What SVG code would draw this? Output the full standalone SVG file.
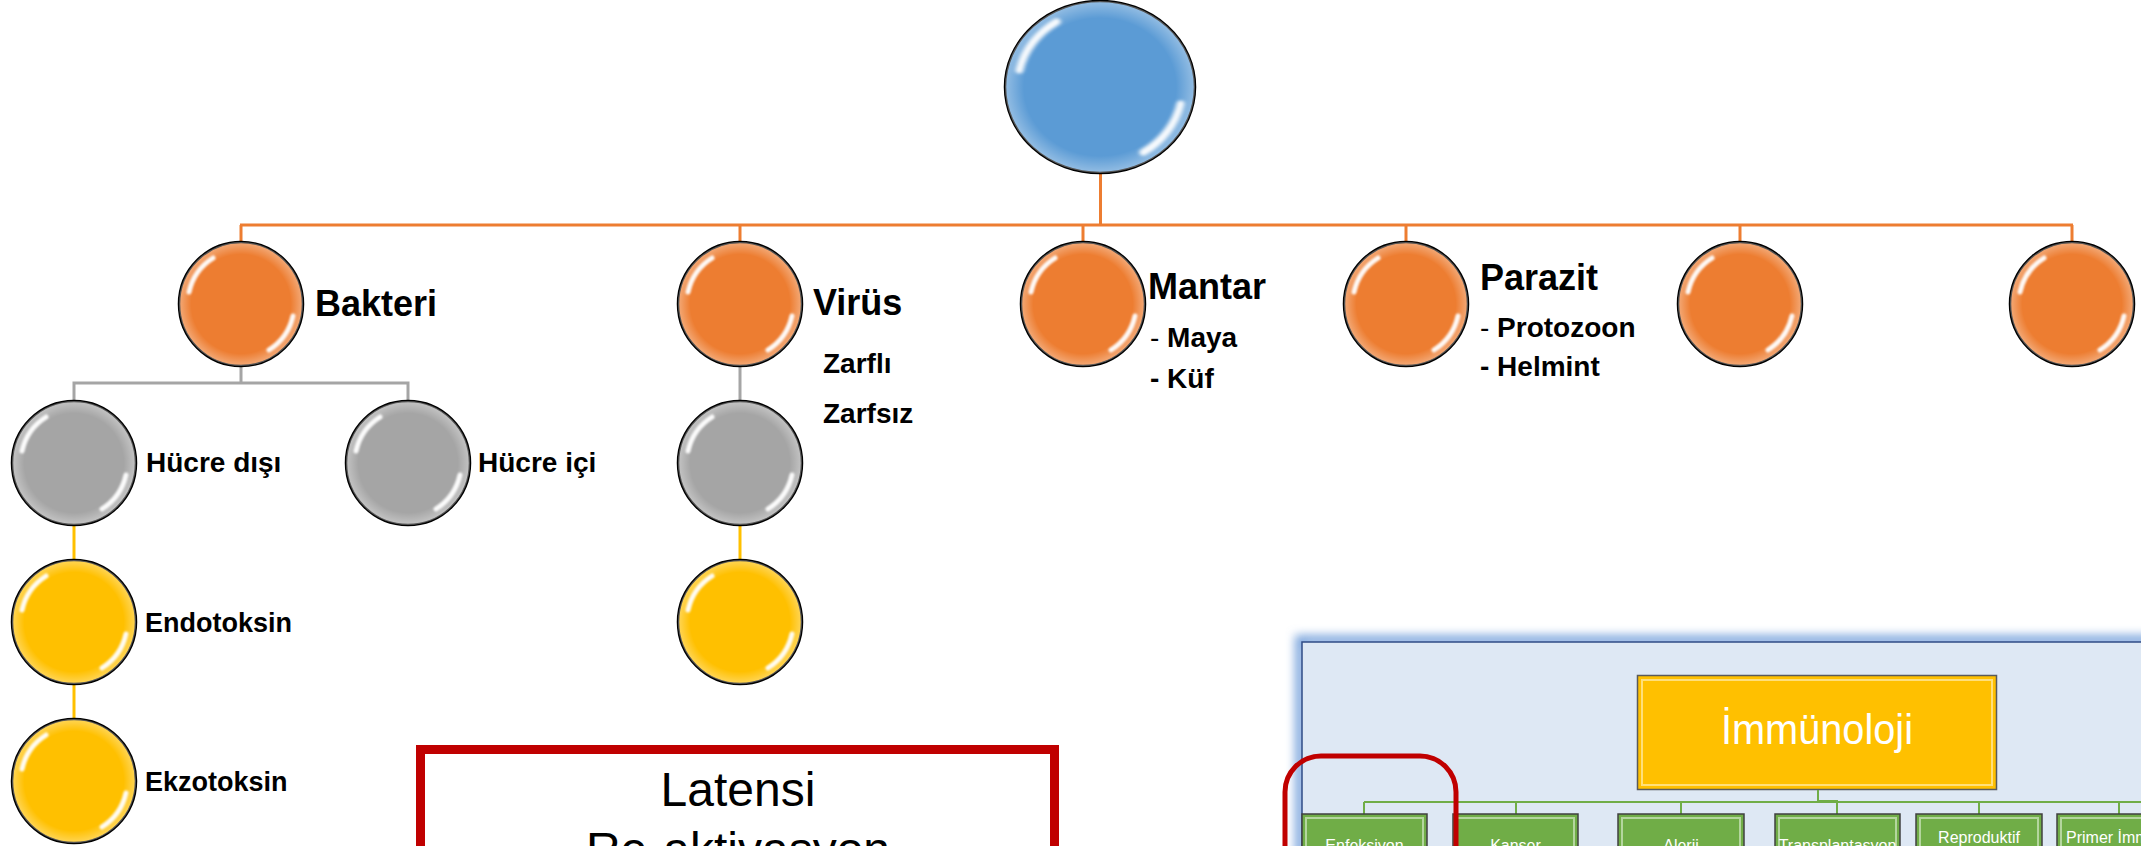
<svg xmlns="http://www.w3.org/2000/svg" xmlns:xlink="http://www.w3.org/1999/xlink" width="2141" height="846" viewBox="0 0 2141 846">
<style>
.lbl{font-family:"Liberation Sans",Arial,sans-serif;font-weight:bold;fill:#000}
.s36{font-size:36px}
.s28{font-size:28px}
.s27{font-size:27px}
.reg{font-weight:normal}
.orange{fill:#ED7D31;stroke:#000;stroke-width:2.5}
.blue{fill:#5B9BD5;stroke:#000;stroke-width:2.5}
.gray{fill:#A5A5A5;stroke:#000;stroke-width:2.5}
.yellow{fill:#FFC000;stroke:#000;stroke-width:2.5}
.rim{fill:url(#rim);stroke:none}
.co{stroke:#ED7D31;stroke-width:3;fill:none}
.cg{stroke:#A5A5A5;stroke-width:3;fill:none}
.cy{stroke:#FFC000;stroke-width:3;fill:none}
.box{font-family:"Liberation Sans",Arial,sans-serif;font-size:48px;fill:#000}
.gbox{fill:#70AD47;stroke:#404040;stroke-width:1.5}
.ghi{fill:none;stroke:#C5E0B4;stroke-width:2;opacity:0.8}
.gtxt{font-family:"Liberation Sans",Arial,sans-serif;font-size:16px;fill:#fff;text-anchor:middle}
.gstart{text-anchor:start}
.gl{stroke:#70AD47;stroke-width:2;fill:none}
</style>
<defs>
<radialGradient id="rim" cx="0.5" cy="0.5" r="0.5">
<stop offset="0.8" stop-color="#fff" stop-opacity="0"/>
<stop offset="1" stop-color="#fff" stop-opacity="0.35"/>
</radialGradient>
<filter id="soft" x="-30%" y="-30%" width="160%" height="160%"><feGaussianBlur stdDeviation="1.3"/></filter>
<filter id="glow" x="-10%" y="-30%" width="120%" height="160%"><feGaussianBlur stdDeviation="5"/></filter>
<g id="gloss" filter="url(#soft)" fill="none" stroke="#fff" stroke-linecap="round" opacity="0.95">
<path d="M -52 -12 A 54 54 0 0 1 -28 -46" stroke-width="5"/>
<path d="M 52 12 A 54 54 0 0 1 28 46" stroke-width="5"/>
</g>
<clipPath id="insetClip"><rect x="1250" y="600" width="891" height="246"/></clipPath>
</defs>

<g id="connectors">
<line class="co" x1="1100.5" y1="174" x2="1100.5" y2="225" stroke-width="5"/>
<line class="co" x1="240" y1="225" x2="2073" y2="225"/>
<line class="co" x1="241" y1="225" x2="241" y2="242"/>
<line class="co" x1="740" y1="225" x2="740" y2="242"/>
<line class="co" x1="1083" y1="225" x2="1083" y2="242"/>
<line class="co" x1="1406" y1="225" x2="1406" y2="242"/>
<line class="co" x1="1740" y1="225" x2="1740" y2="242"/>
<line class="co" x1="2072" y1="225" x2="2072" y2="242"/>
<polyline class="cg" points="241,366 241,383"/>
<polyline class="cg" points="74,401 74,383 408,383 408,401"/>
<line class="cg" x1="740" y1="366" x2="740" y2="401"/>
<line class="cy" x1="74" y1="525" x2="74" y2="560"/>
<line class="cy" x1="74" y1="684" x2="74" y2="719"/>
<line class="cy" x1="740" y1="525" x2="740" y2="560"/>
</g>

<g id="n-root">
<ellipse class="blue" cx="1100" cy="87" rx="95" ry="86"/>
<ellipse class="rim" cx="1100" cy="87" rx="95" ry="86"/>
<use xlink:href="#gloss" transform="translate(1100,87) scale(1.55,1.42)"/>
</g>

<g id="n-bakteri">
<circle class="orange" cx="241" cy="304" r="62"/><circle class="rim" cx="241" cy="304" r="62"/>
<use xlink:href="#gloss" x="241" y="304"/>
<text class="lbl s36" x="315" y="316">Bakteri</text>
</g>
<g id="n-virus">
<circle class="orange" cx="740" cy="304" r="62"/><circle class="rim" cx="740" cy="304" r="62"/>
<use xlink:href="#gloss" x="740" y="304"/>
<text class="lbl s36" x="813" y="315">Virüs</text>
<text class="lbl s28" x="823" y="373">Zarflı</text>
<text class="lbl s28" x="823" y="423">Zarfsız</text>
</g>
<g id="n-mantar">
<circle class="orange" cx="1083" cy="304" r="62"/><circle class="rim" cx="1083" cy="304" r="62"/>
<use xlink:href="#gloss" x="1083" y="304"/>
<text class="lbl s36" x="1148" y="299">Mantar</text>
<text class="lbl s28" x="1150" y="347"><tspan class="reg">-</tspan> Maya</text>
<text class="lbl s28" x="1150" y="388">- Küf</text>
</g>
<g id="n-parazit">
<circle class="orange" cx="1406" cy="304" r="62"/><circle class="rim" cx="1406" cy="304" r="62"/>
<use xlink:href="#gloss" x="1406" y="304"/>
<text class="lbl s36" x="1480" y="290">Parazit</text>
<text class="lbl s28" x="1480" y="337"><tspan class="reg">-</tspan> Protozoon</text>
<text class="lbl s28" x="1480" y="376">- Helmint</text>
</g>
<g id="n-o5">
<circle class="orange" cx="1740" cy="304" r="62"/><circle class="rim" cx="1740" cy="304" r="62"/>
<use xlink:href="#gloss" x="1740" y="304"/>
</g>
<g id="n-o6">
<circle class="orange" cx="2072" cy="304" r="62"/><circle class="rim" cx="2072" cy="304" r="62"/>
<use xlink:href="#gloss" x="2072" y="304"/>
</g>

<g id="n-hucre-disi">
<circle class="gray" cx="74" cy="463" r="62"/><circle class="rim" cx="74" cy="463" r="62"/>
<use xlink:href="#gloss" x="74" y="463"/>
<text class="lbl s28" x="146" y="472">Hücre dışı</text>
</g>
<g id="n-hucre-ici">
<circle class="gray" cx="408" cy="463" r="62"/><circle class="rim" cx="408" cy="463" r="62"/>
<use xlink:href="#gloss" x="408" y="463"/>
<text class="lbl s28" x="478" y="472">Hücre içi</text>
</g>
<g id="n-virus-gray">
<circle class="gray" cx="740" cy="463" r="62"/><circle class="rim" cx="740" cy="463" r="62"/>
<use xlink:href="#gloss" x="740" y="463"/>
</g>
<g id="n-endotoksin">
<circle class="yellow" cx="74" cy="622" r="62"/><circle class="rim" cx="74" cy="622" r="62"/>
<use xlink:href="#gloss" x="74" y="622"/>
<text class="lbl s27" x="145" y="632">Endotoksin</text>
</g>
<g id="n-ekzotoksin">
<circle class="yellow" cx="74" cy="781" r="62"/><circle class="rim" cx="74" cy="781" r="62"/>
<use xlink:href="#gloss" x="74" y="781"/>
<text class="lbl s27" x="145" y="791">Ekzotoksin</text>
</g>
<g id="n-virus-yellow">
<circle class="yellow" cx="740" cy="622" r="62"/><circle class="rim" cx="740" cy="622" r="62"/>
<use xlink:href="#gloss" x="740" y="622"/>
</g>

<g id="latensi-box">
<rect x="420.5" y="749.5" width="634" height="200" fill="#fff" stroke="#C00000" stroke-width="9"/>
<text class="box" x="738" y="806" text-anchor="middle">Latensi</text>
<text class="box" x="738" y="866" text-anchor="middle">Re-aktivasyon</text>
</g>

<g id="inset" clip-path="url(#insetClip)">
<rect x="1300" y="640" width="900" height="300" fill="none" stroke="#7FA7DE" stroke-width="10" filter="url(#glow)"/>
<rect x="1302" y="642" width="900" height="300" fill="#DEE8F4" stroke="#2F4B85" stroke-width="1.5"/>
<g id="n-immunoloji">
<rect x="1637.5" y="675.5" width="359" height="114" fill="#FFC000" stroke="#5A5A5A" stroke-width="1.5"/>
<rect x="1642" y="680" width="350" height="105" fill="none" stroke="#FFE699" stroke-width="2" opacity="0.8"/>
<text x="1817" y="744" font-family="'Liberation Sans',Arial,sans-serif" font-size="42" fill="#fff" text-anchor="middle" textLength="192" lengthAdjust="spacingAndGlyphs">İmmünoloji</text>
</g>
<g id="inset-connectors">
<polyline class="gl" points="1818,790 1818,801 1837,801 1837,814"/>
<line class="gl" x1="1364" y1="802" x2="2141" y2="802"/>
<line class="gl" x1="1364" y1="802" x2="1364" y2="814"/>
<line class="gl" x1="1516" y1="802" x2="1516" y2="814"/>
<line class="gl" x1="1681" y1="802" x2="1681" y2="814"/>
<line class="gl" x1="1979" y1="802" x2="1979" y2="814"/>
<line class="gl" x1="2119" y1="802" x2="2119" y2="814"/>
</g>
<g id="n-enfeksiyon"><rect class="gbox" x="1302" y="814" width="125" height="60"/><rect class="ghi" x="1306" y="818" width="117" height="60"/><text class="gtxt" x="1364.5" y="851">Enfeksiyon</text></g>
<g id="n-kanser"><rect class="gbox" x="1453" y="814" width="125" height="60"/><rect class="ghi" x="1457" y="818" width="117" height="60"/><text class="gtxt" x="1515.5" y="851">Kanser</text></g>
<g id="n-alerji"><rect class="gbox" x="1618" y="814" width="126" height="60"/><rect class="ghi" x="1622" y="818" width="118" height="60"/><text class="gtxt" x="1681" y="851">Alerji</text></g>
<g id="n-transplantasyon"><rect class="gbox" x="1775" y="814" width="125" height="60"/><rect class="ghi" x="1779" y="818" width="117" height="60"/><text class="gtxt" x="1837.5" y="851">Transplantasyon</text></g>
<g id="n-reproduktif"><rect class="gbox" x="1916" y="814" width="126" height="60"/><rect class="ghi" x="1920" y="818" width="118" height="60"/><text class="gtxt" x="1979" y="843" font-size="16.5">Reproduktif</text></g>
<g id="n-primer"><rect class="gbox" x="2057" y="814" width="126" height="60"/><rect class="ghi" x="2061" y="818" width="118" height="60"/><text class="gtxt gstart" x="2066" y="843" font-size="16.5">Primer İmmün</text></g>
<rect x="1285" y="756" width="171" height="200" rx="36" ry="36" fill="none" stroke="#C00000" stroke-width="5"/>
</g>
</svg>
